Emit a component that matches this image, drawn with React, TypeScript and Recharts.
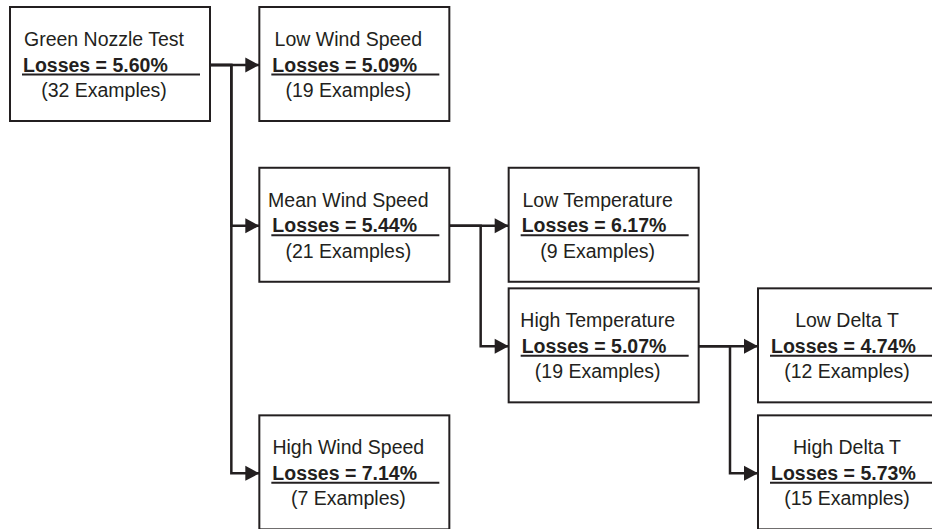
import { Scatter, ScatterChart, XAxis, YAxis } from 'recharts'

// Дерево решений: узлы по уровням (depth) и строкам (row)
const nodeNames = [
  'Green Nozzle Test',
  'Low Wind Speed',
  'Mean Wind Speed',
  'High Wind Speed',
  'Low Temperature',
  'High Temperature',
  'Low Delta T',
  'High Delta T',
]
const nodeLosses = [5.6, 5.09, 5.44, 7.14, 6.17, 5.07, 4.74, 5.73]
const nodeExamples = [32, 19, 21, 7, 9, 19, 12, 15]
const nodeDepth = [0, 1, 1, 1, 2, 2, 3, 3]
const nodeRow = [0, 0, 1, 2.54, 1, 1.75, 1.75, 2.54]
const nodeParent = [-1, 0, 0, 0, 2, 2, 5, 5]

const W = 932
const H = 529
const MARGIN = { top: 65, right: 174, bottom: 46, left: 10 }
const INK = '#231f20'
const FONT = '"Liberation Sans", Arial, Helvetica, sans-serif'
const COL_PX = (W - MARGIN.left - MARGIN.right) / 3
const GAP_PX = 28

const boxWidth = (i: number) => (nodeParent[i] < 0 ? 200 : 190)
const toCol = (px: number) => px / COL_PX

const nodes = nodeNames.map((name, i) => ({
  x: nodeDepth[i],
  y: nodeRow[i],
  idx: i,
  name,
  losses: nodeLosses[i],
  examples: nodeExamples[i],
}))

const edges = nodeParent
  .map((p, i) =>
    p < 0
      ? null
      : [
          { x: nodeDepth[p] + toCol(boxWidth(p)), y: nodeRow[p] },
          { x: nodeDepth[i] - toCol(GAP_PX), y: nodeRow[p] },
          { x: nodeDepth[i] - toCol(GAP_PX), y: nodeRow[i] },
          { x: nodeDepth[i], y: nodeRow[i], tip: true },
        ],
  )
  .filter(Boolean) as { x: number; y: number; tip?: boolean }[][]

function Arrow(props: any) {
  const { cx, cy, payload } = props
  if (!payload?.tip) return <g />
  return <polygon points={`${cx - 14},${cy - 7.5} ${cx},${cy} ${cx - 14},${cy + 7.5}`} fill={INK} />
}

function NodeBox(props: any) {
  const { cx, cy, payload } = props
  const w = boxWidth(payload.idx)
  const mid = cx + w / 2 - 6
  return (
    <g fontFamily={FONT} fill={INK}>
      <rect x={cx} y={cy - 58} width={w} height={114} fill="#fff" stroke={INK} strokeWidth={2} />
      <text x={mid} y={cy - 19} textAnchor="middle" fontSize={19.5}>
        {payload.name}
      </text>
      <text x={cx + 13} y={cy + 6.5} fontSize={19.5} fontWeight="bold">
        {`Losses = ${payload.losses.toFixed(2)}%`}
      </text>
      <line x1={cx + 12} x2={cx + w - 10} y1={cy + 9.5} y2={cy + 9.5} stroke={INK} strokeWidth={2} />
      <text x={mid} y={cy + 32} textAnchor="middle" fontSize={19.5}>
        {`(${payload.examples} Examples)`}
      </text>
    </g>
  )
}

export default function App() {
  return (
    <div style={{ position: 'absolute', left: 0, top: 0, background: '#fff' }}>
      <ScatterChart width={W} height={H} margin={MARGIN}>
        <XAxis type="number" dataKey="x" domain={[0, 3]} hide />
        <YAxis type="number" dataKey="y" domain={[0, 2.6]} reversed hide />
        {edges.map((pts, k) => (
          <Scatter
            key={k}
            data={pts}
            line={{ stroke: INK, strokeWidth: 2.5 }}
            lineType="joint"
            shape={Arrow}
            isAnimationActive={false}
          />
        ))}
        <Scatter data={nodes} shape={NodeBox} isAnimationActive={false} />
      </ScatterChart>
    </div>
  )
}
